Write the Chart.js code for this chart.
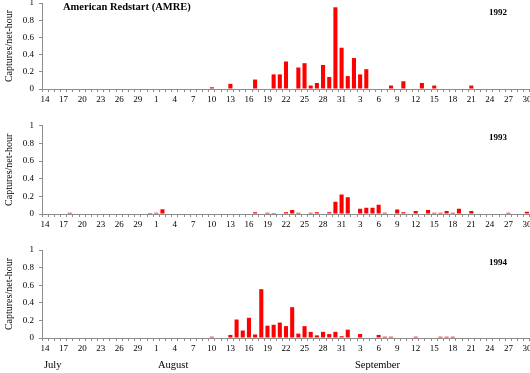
<!DOCTYPE html>
<html>
<head>
<meta charset="utf-8">
<script src="https://cdn.jsdelivr.net/npm/chart.js@4/dist/chart.umd.min.js"></script>
<style>
  html, body { margin: 0; padding: 0; background: #fff; }
  body { width: 530px; height: 373px; position: relative; overflow: hidden; font-family: "Liberation Serif", "Times New Roman", serif; }
  canvas { position: absolute; left: 0; }
  .lbl { position: absolute; white-space: nowrap; color: #000; line-height: 1; }
  .bold { font-weight: bold; }
</style>
</head>
<body>
<canvas id="c1" width="530" height="111" style="top:0px"></canvas>
<canvas id="c2" width="530" height="125" style="top:111px"></canvas>
<canvas id="c3" width="530" height="124" style="top:236px"></canvas>
<div class="lbl bold" style="left:63px; top:2px; font-size:10.5px;">American Redstart (AMRE)</div>
<div class="lbl bold" style="left:489px; top:8px; font-size:9px;">1992</div>
<div class="lbl bold" style="left:489px; top:133px; font-size:9px;">1993</div>
<div class="lbl bold" style="left:489px; top:258px; font-size:9px;">1994</div>
<div class="lbl" style="left:44px; top:360px; font-size:10.5px;">July</div>
<div class="lbl" style="left:158px; top:360px; font-size:10.5px;">August</div>
<div class="lbl" style="left:355px; top:360px; font-size:10.5px;">September</div>
<script>
// Categories: July 14 .. Sept 30 (one bar per day)
const dayLabels = [
  '14','15','16','17','18','19','20','21','22','23','24','25','26','27','28','29','30','31',
  '1','2','3','4','5','6','7','8','9','10','11','12','13','14','15','16','17','18','19','20','21','22','23','24','25','26','27','28','29','30','31',
  '1','2','3','4','5','6','7','8','9','10','11','12','13','14','15','16','17','18','19','20','21','22','23','24','25','26','27','28','29','30'
];
const yTicks = [0, 0.2, 0.4, 0.6, 0.8, 1];
const yTickLabels = ['0', '0.2', '0.4', '0.6', '0.8', '1'];
const yAxisTitle = 'Captures/net-hour';

// Captures per net-hour, 79 days (Jul 14 .. Sep 30)
const values1992 = [
  0,0,0,0,0,0,0,0,0,0,0,0,0,0,0,0,0,0,
  0,0,0,0,0,0,0,0,0,0.02,0,0,0.06,0,0,0,0.11,0,0,0.17,0.17,0.32,0,0.25,0.30,0.04,0.07,0.28,0.14,0.95,0.48,
  0.15,0.36,0.17,0.23,0,0,0,0.04,0,0.09,0,0,0.07,0,0.04,0,0,0,0,0,0.04,0,0,0,0,0,0,0,0,0
];
const values1993 = [
  0,0,0,0,0.015,0,0,0,0,0,0,0,0,0,0,0,0,0.01,
  0.015,0.055,0,0,0,0,0,0,0,0,0,0,0,0,0,0,0.02,0,0.015,0.01,0,0.02,0.045,0.015,0,0.015,0.02,0,0.02,0.14,0.22,
  0.19,0,0.06,0.07,0.07,0.105,0.015,0,0.05,0.02,0,0.035,0,0.045,0.015,0.015,0.035,0.015,0.06,0,0.035,0,0,0,0,0,0.015,0,0,0.025
];
const values1994 = [
  0,0,0,0,0,0,0,0,0,0,0,0,0,0,0,0,0,0,
  0,0,0,0,0,0,0,0,0,0.015,0,0,0.035,0.21,0.085,0.23,0.04,0.555,0.14,0.15,0.175,0.135,0.35,0.05,0.135,0.07,0.03,0.07,0.045,0.07,0.02,
  0.095,0,0.045,0,0,0.035,0.015,0.015,0,0,0,0.015,0,0,0,0.015,0.015,0.015,0,0,0,0,0,0,0,0,0,0,0,0
];

const axisColor = '#8c8c8c';
const tickFont = { family: '"Liberation Serif", "Times New Roman", serif', size: 9 };

function makeChart(id, data, topPad) {
  return new Chart(document.getElementById(id), {
    type: 'bar',
    data: {
      labels: dayLabels,
      datasets: [{
        data: data,
        backgroundColor: '#ff0000',
        borderWidth: 0,
        barPercentage: 0.66,
        categoryPercentage: 1.0
      }]
    },
    options: {
      responsive: false,
      animation: false,
      devicePixelRatio: 1,
      layout: { padding: { top: topPad, left: 0, right: 0, bottom: 0 } },
      plugins: { legend: { display: false }, tooltip: { enabled: false }, title: { display: false } },
      scales: {
        x: {
          type: 'category',
          offset: true,
          grid: { display: true, drawOnChartArea: false, drawTicks: true, tickLength: 3, offset: true, color: axisColor, lineWidth: 1 },
          border: { display: true, color: axisColor, width: 1 },
          ticks: {
            autoSkip: false, maxRotation: 0, minRotation: 0, padding: 2,
            color: '#000', font: tickFont,
            callback: function (v, i) { return i % 3 === 0 ? dayLabels[i] : ''; }
          },
          afterFit: function (s) { s.height = 22; s.paddingLeft = 0; s.paddingRight = 0; }
        },
        y: {
          min: 0, max: 1,
          grid: { display: true, drawOnChartArea: false, drawTicks: true, tickLength: 3, color: axisColor, lineWidth: 1 },
          border: { display: true, color: axisColor, width: 1 },
          afterBuildTicks: function (s) { s.ticks = yTicks.map(v => ({ value: v })); },
          ticks: {
            padding: 5, color: '#000', font: tickFont,
            callback: function (v, i) { return yTickLabels[i]; }
          },
          title: {
            display: true, text: yAxisTitle, color: '#000',
            font: { family: '"Liberation Serif", "Times New Roman", serif', size: 10 },
            padding: { top: 3, bottom: 0 }
          },
          afterFit: function (s) { s.width = 42; s.paddingTop = 0; s.paddingBottom = 0; }
        }
      }
    }
  });
}

makeChart('c1', values1992, 3);
makeChart('c2', values1993, 14.7);
makeChart('c3', values1994, 14);
</script>
</body>
</html>
